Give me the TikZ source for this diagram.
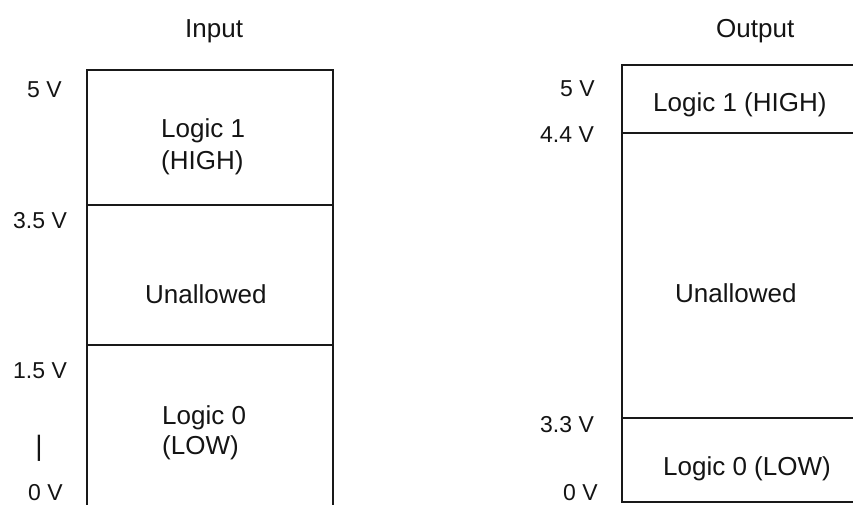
\documentclass[tikz,border=0pt]{standalone}
\usepackage{fontspec}
\setmainfont{Liberation Sans}
\begin{document}
\begin{tikzpicture}[x=1pt,y=-1pt,
  band/.style={line width=2pt, draw=black!90},
  lbl/.style={anchor=base west, inner sep=0pt, text=black!92, font=\fontsize{26}{30}\selectfont},
  volt/.style={anchor=base west, inner sep=0pt, text=black!92, font=\fontsize{23}{27}\selectfont}]
\useasboundingbox (0,0) rectangle (853,505);
% Input column
\draw[band] (87,510) -- (87,70) -- (333,70) -- (333,510);
\draw[band] (87,205) -- (333,205);
\draw[band] (87,345) -- (333,345);
\node[lbl] (tin) at (185,38) {Input};
\node[volt] (in5) at (27,98) {5 V};
\node[lbl] (inh1) at (161,138) {Logic 1};
\node[lbl] (inh2) at (161,169) {(HIGH)};
\node[volt] (in35) at (13,228) {3.5 V};
\node[lbl] (inu) at (145,303) {Unallowed};
\node[volt] (in15) at (13,378) {1.5 V};
\node[lbl] (inl1) at (162,424) {Logic 0};
\node[lbl] (inl2) at (162,454) {(LOW)};
\node[anchor=center, inner sep=0pt, text=black!92, font=\fontsize{28}{32}\selectfont] (bar) at (39,448) {|};
\node[volt] (in0) at (28,500) {0 V};
% Output column
\draw[band] (860,65) -- (622,65) -- (622,502) -- (860,502);
\draw[band] (622,133) -- (860,133);
\draw[band] (622,418) -- (860,418);
\node[lbl] (tout) at (716,38) {Output};
\node[volt] (out5) at (560,97) {5 V};
\node[lbl] (outh) at (653,112) {Logic 1 (HIGH)};
\node[volt] (out44) at (540,143) {4.4 V};
\node[lbl] (outu) at (675,302) {Unallowed};
\node[volt] (out33) at (540,432) {3.3 V};
\node[lbl] (outl) at (663,475) {Logic 0 (LOW)};
\node[volt] (out0) at (563,500) {0 V};
\end{tikzpicture}
\end{document}
